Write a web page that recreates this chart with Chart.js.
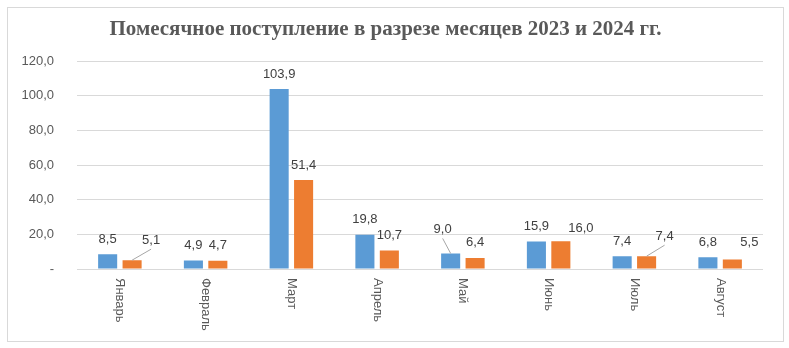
<!DOCTYPE html>
<html>
<head>
<meta charset="utf-8">
<script src="https://cdn.jsdelivr.net/npm/chart.js@4"></script>
<style>
  html, body { margin: 0; padding: 0; background: #fff; }
  #box { position: absolute; left: 7px; top: 7px; width: 775px; height: 333px; border: 1px solid #d9d9d9; }
</style>
</head>
<body>
<div id="box"><canvas id="c"></canvas></div>
<script>
const months = ['Январь', 'Февраль', 'Март', 'Апрель', 'Май', 'Июнь', 'Июль', 'Август'];
const y2023 = [8.5, 4.9, 103.9, 19.8, 9.0, 15.9, 7.4, 6.8];
const y2024 = [5.1, 4.7, 51.4, 10.7, 6.4, 16.0, 7.4, 5.5];
const yTicks = [0, 20, 40, 60, 80, 100, 120];

// сдвиг подписей данных, которые в оригинале отодвинуты от столбца
const shift2023 = [[0,0],[0,0],[0,0],[0,0],[-8,-9],[0,0],[0,0],[0,0]];
const shift2024 = [[19,-5],[0,0],[0,0],[0,0],[0,0],[20,2],[18,-5],[17,-2]];

const fmt = v => v === 0 ? '-' : v.toFixed(1).replace('.', ',');

const labelsPlugin = {
  id: 'labels',
  afterDatasetsDraw(chart) {
    const ctx = chart.ctx;
    ctx.save();
    ctx.font = '13px "Liberation Sans"';
    ctx.fillStyle = '#404040';
    ctx.textAlign = 'center';
    ctx.textBaseline = 'middle';
    const shifts = [shift2023, shift2024];
    chart.data.datasets.forEach((ds, di) => {
      chart.getDatasetMeta(di).data.forEach((bar, i) => {
        const [dx, dy] = shifts[di][i];
        const lx = bar.x + dx, ly = bar.y - 15 + dy;
        if (Math.abs(dy) >= 5) {
          ctx.strokeStyle = '#a6a6a6';
          ctx.lineWidth = 1;
          ctx.beginPath();
          ctx.moveTo(bar.x, bar.y);
          ctx.lineTo(lx, ly + 9);
          ctx.stroke();
        }
        ctx.fillText(fmt(ds.data[i]), lx, ly);
      });
    });
    // подписи категорий, повернутые сверху вниз
    const xs = chart.scales.x;
    ctx.fillStyle = '#595959';
    ctx.textAlign = 'left';
    months.forEach((m, i) => {
      const x = xs.getPixelForTick(i);
      ctx.save();
      ctx.translate(x, chart.chartArea.bottom + 9);
      ctx.rotate(Math.PI / 2);
      ctx.fillText(m, 0, 0);
      ctx.restore();
    });
    ctx.restore();
  }
};

new Chart(document.getElementById('c'), {
  type: 'bar',
  data: {
    labels: months,
    datasets: [
      { label: '2023', data: y2023, backgroundColor: '#5b9bd5', barPercentage: 0.78, categoryPercentage: 0.57 },
      { label: '2024', data: y2024, backgroundColor: '#ed7d31', barPercentage: 0.78, categoryPercentage: 0.57 }
    ]
  },
  options: {
    responsive: true,
    maintainAspectRatio: false,
    animation: false,
    layout: { padding: { left: 0, right: 20, bottom: 64, top: 0 } },
    plugins: {
      legend: { display: false },
      tooltip: { enabled: false },
      title: {
        display: true,
        text: 'Помесячное поступление в разрезе месяцев 2023 и 2024 гг.',
        color: '#595959',
        font: { family: '"Liberation Serif"', size: 21, weight: 'bold' },
        padding: { top: 9, bottom: 19 }
      }
    },
    scales: {
      x: {
        grid: { display: false },
        border: { display: false },
        ticks: { display: false }
      },
      y: {
        min: 0, max: 120,
        afterFit: s => { s.width = 69; },
        afterBuildTicks: s => { s.ticks = yTicks.map(v => ({ value: v })); },
        grid: { color: '#d9d9d9', drawTicks: false },
        border: { display: false },
        ticks: {
          padding: 23,
          color: '#595959',
          font: { family: '"Liberation Sans"', size: 13 },
          callback: v => fmt(v)
        }
      }
    }
  },
  plugins: [labelsPlugin]
});
</script>
</body>
</html>
